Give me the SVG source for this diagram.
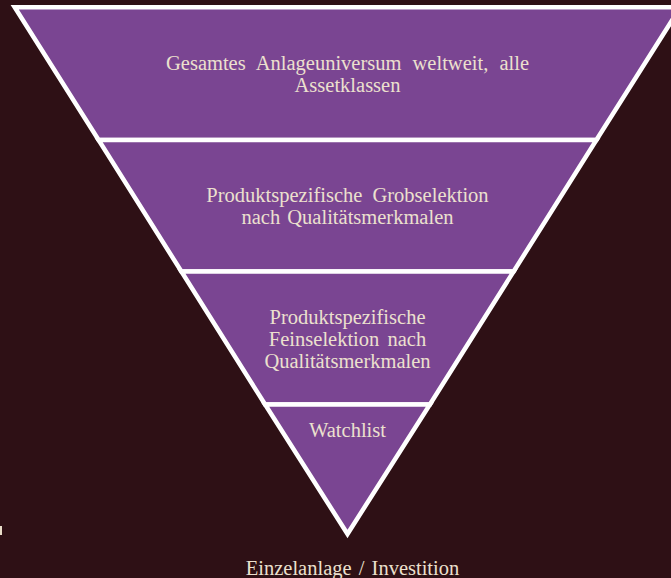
<svg xmlns="http://www.w3.org/2000/svg" width="671" height="578" viewBox="0 0 671 578">
  <style>
    .band { fill: #7a4592; stroke: #ffffff; stroke-width: 4.5; stroke-linejoin: miter; }
    .lbl { font-family: "Liberation Serif", "Times New Roman", serif; font-size: 20.5px; fill: #ece0ce; text-anchor: middle; }
  </style>
  <rect x="0" y="0" width="671" height="578" fill="#2e1015"/>
  <g id="band1">
    <polygon class="band" points="14.7,7.3 680.3,7.3 596.4,140 98.6,140"/>
    <text class="lbl" x="347.5" y="70" word-spacing="6">Gesamtes Anlageuniversum weltweit, alle</text>
    <text class="lbl" x="347.5" y="92">Assetklassen</text>
  </g>
  <g id="band2">
    <polygon class="band" points="98.6,140 596.4,140 513.6,271.5 181.4,271.5"/>
    <text class="lbl" x="347.5" y="202" word-spacing="5">Produktspezifische Grobselektion</text>
    <text class="lbl" x="347.5" y="224" word-spacing="2">nach Qualitätsmerkmalen</text>
  </g>
  <g id="band3">
    <polygon class="band" points="181.4,271.5 513.6,271.5 429.9,404.5 265.1,404.5"/>
    <text class="lbl" x="347.5" y="323.5">Produktspezifische</text>
    <text class="lbl" x="347.5" y="345.5" word-spacing="3">Feinselektion nach</text>
    <text class="lbl" x="347.5" y="367.5">Qualitätsmerkmalen</text>
  </g>
  <g id="band4">
    <polygon class="band" points="265.1,404.5 429.9,404.5 347.5,534"/>
    <text class="lbl" x="347.5" y="437">Watchlist</text>
  </g>
  <g id="result">
    <text class="lbl" x="352.5" y="575" word-spacing="2">Einzelanlage / Investition</text>
  </g>
  <g id="connectors"/>
  <rect x="0" y="526" width="2" height="9" fill="#e8dcc8"/>
</svg>
